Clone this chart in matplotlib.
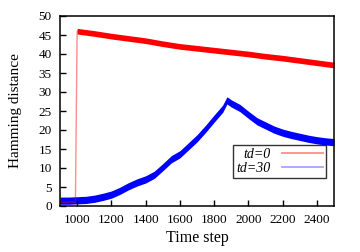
import matplotlib
matplotlib.use("Agg")
import matplotlib.pyplot as plt
import numpy as np

# values (band centre), time step vs Hamming distance
t_red = [900, 950, 990, 1000, 1100, 1200, 1300, 1400, 1500, 1600, 1700, 1800,
         1900, 2000, 2100, 2200, 2300, 2400, 2500]
d_red = [1.0, 1.0, 1.0, 46.0, 45.4, 44.7, 44.1, 43.5, 42.7, 42.0, 41.5, 41.0,
         40.5, 40.0, 39.4, 38.9, 38.3, 37.7, 37.1]

t_blue = [900, 950, 1000, 1050, 1100, 1150, 1200, 1250, 1300, 1350, 1400, 1450,
          1500, 1550, 1600, 1650, 1700, 1750, 1800, 1850, 1875, 1900, 1950,
          2000, 2050, 2100, 2150, 2200, 2250, 2300, 2350, 2400, 2450, 2500]
d_blue = [1.4, 1.4, 1.5, 1.6, 1.9, 2.4, 3.0, 4.0, 5.2, 6.2, 7.0, 8.2,
          10.2, 12.3, 13.6, 15.7, 17.8, 20.3, 23.0, 25.6, 27.8, 27.0, 25.8,
          24.0, 22.3, 21.2, 20.1, 19.3, 18.7, 18.2, 17.7, 17.3, 17.0, 16.8]

# half width of the noise band around each curve
noise_red = 0.75
noise_blue = 0.95

labels = ["td=0", "td=30"]
xticks = [1000, 1200, 1400, 1600, 1800, 2000, 2200, 2400]
yticks = [0, 5, 10, 15, 20, 25, 30, 35, 40, 45, 50]

plt.rcParams['font.family'] = ['Liberation Serif', 'DejaVu Serif']

fig = plt.figure(figsize=(3.6, 2.52), dpi=100)
ax = fig.add_axes([60/360, 46/252, 274/360, 190/252])

tr = np.array(t_red); dr = np.array(d_red)
tb = np.array(t_blue); db = np.array(d_blue)

ax.fill_between(tr[3:], dr[3:] - noise_red, dr[3:] + noise_red, color='red', lw=0)
l1, = ax.plot(tr, dr, color='red', lw=1.0, alpha=0.45, label=labels[0])
ax.fill_between(tr[:3], dr[:3] - 0.4, dr[:3] + 0.4, color='red', lw=0)
ax.fill_between(tb, db - noise_blue, db + noise_blue, color='blue', lw=0)
l2, = ax.plot(tb, db, color='blue', lw=1.0, alpha=0.35, label=labels[1])

ax.set_xlim(900, 2500)
ax.set_ylim(0, 50)
ax.set_xticks(xticks)
ax.set_yticks(yticks)
ax.tick_params(direction='in', length=4, width=1, labelsize=9.5, pad=6,
               top=False, right=False)
for s in ax.spines.values():
    s.set_linewidth(1.1)

ax.set_xlabel("Time step", fontsize=11.5, labelpad=3)
ax.set_ylabel("Hamming distance", fontsize=11, labelpad=12)

leg = ax.legend(handles=[l1, l2], loc='lower right', bbox_to_anchor=(0.971, 0.149),
                borderaxespad=0, markerfirst=False, fancybox=False,
                edgecolor='black', handlelength=3.0,
                prop={'style': 'italic', 'size': 10}, labelspacing=0.05,
                borderpad=0.2, handletextpad=0.8)
leg.get_frame().set_linewidth(1.0)
for h in leg.get_lines():
    h.set_linewidth(1.3)

fig.savefig("out.png", dpi=100)
